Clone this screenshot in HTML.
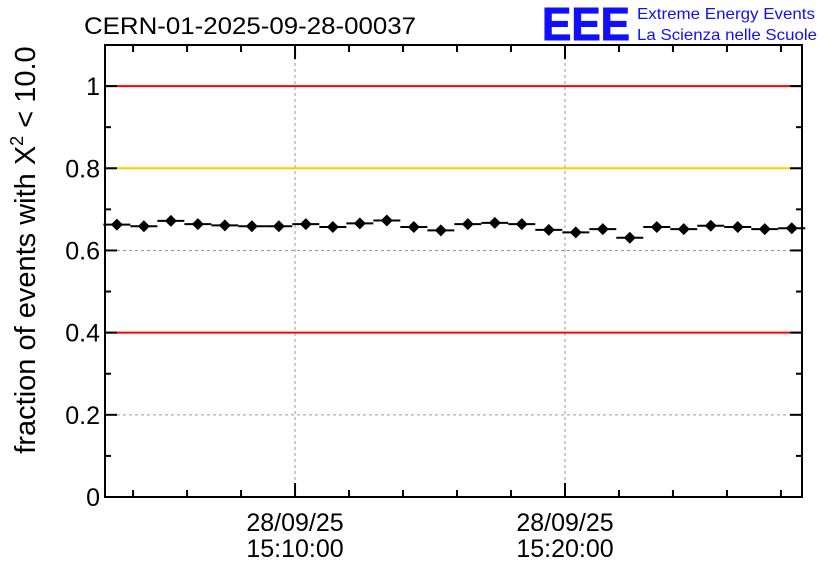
<!DOCTYPE html>
<html><head><meta charset="utf-8"><style>
body{margin:0;background:#fff;width:836px;height:572px;overflow:hidden}
svg text{font-family:"Liberation Sans",sans-serif}
</style></head><body>
<svg id="c" width="836" height="572" xmlns="http://www.w3.org/2000/svg">
<text x="84" y="34" font-size="24" textLength="332" lengthAdjust="spacingAndGlyphs">CERN-01-2025-09-28-00037</text>
<text x="542" y="40" font-size="46" font-weight="bold" fill="#1010ff" stroke="#1010ff" stroke-width="1" textLength="88" lengthAdjust="spacingAndGlyphs">EEE</text>
<text x="637" y="19" font-size="16" fill="#1010ff" textLength="178" lengthAdjust="spacingAndGlyphs">Extreme Energy Events</text>
<text x="637" y="40" font-size="16" fill="#1010ff" textLength="180" lengthAdjust="spacingAndGlyphs">La Scienza nelle Scuole</text>
<text transform="translate(35,250) rotate(-90)" text-anchor="middle" font-size="29">fraction of events with X<tspan font-size="18" dy="-12">2</tspan><tspan dy="12"> &lt; 10.0</tspan></text>
<g id="grid"></g><g id="refs"></g><g id="marks"></g><g id="axes"></g>
</svg>
<script>
const minutes=[3.4,4.4,5.4,6.4,7.4,8.4,9.4,10.4,11.4,12.4,13.4,14.4,15.4,16.4,17.4,18.4,19.4,20.4,21.4,22.4,23.4,24.4,25.4,26.4,27.4,28.4];
const fractions=[0.663,0.659,0.672,0.664,0.661,0.659,0.659,0.664,0.657,0.666,0.673,0.657,0.649,0.664,0.667,0.664,0.650,0.644,0.652,0.631,0.657,0.652,0.660,0.657,0.652,0.654];
const yTicks=[0,0.2,0.4,0.6,0.8,1];
const yTickLabels=["0","0.2","0.4","0.6","0.8","1"];
const xTicks=[10,20];
const xTickDates=["28/09/25","28/09/25"];
const xTickTimes=["15:10:00","15:20:00"];
const refLines=[1,0.8,0.4];
const refColors=["#ff0000","#ffcc00","#ff0000"];
const L=105,R=802,T=45,B=497,XMIN=2.96,XMAX=28.78,YMAX=1.1;
const xs=m=>L+(m-XMIN)/(XMAX-XMIN)*(R-L);
const ys=v=>B-v/YMAX*(B-T);
const NS="http://www.w3.org/2000/svg";
function mk(p,tag,at){const e=document.createElementNS(NS,tag);for(const k in at)e.setAttribute(k,at[k]);document.getElementById(p).appendChild(e);return e;}
yTicks.forEach(v=>{if(v>0&&v<1){const g=mk('grid','line',{x1:L,x2:R,y1:ys(v),y2:ys(v),stroke:'#999','stroke-dasharray':'3,3'});

}});
xTicks.forEach(m=>{const g=mk('grid','line',{x1:xs(m),x2:xs(m),y1:T,y2:B,stroke:'#999','stroke-dasharray':'3,3'});

});
refLines.forEach((v,i)=>{const l=mk('refs','line',{x1:L,x2:R,y1:ys(v),y2:ys(v),stroke:refColors[i],'stroke-width':2});

});
const half=(xs(1)-xs(0))/2;
minutes.forEach((m,i)=>{const x=xs(m),y=ys(fractions[i]);
const b=mk('marks','line',{x1:x-half,x2:x+half,y1:y,y2:y,stroke:'#000','stroke-width':2});


const p=mk('marks','path',{d:`M${x},${y-6}L${x+6},${y}L${x},${y+6}L${x-6},${y}Z`,fill:'#000'});

});
const fr=mk('axes','rect',{x:L,y:T,width:R-L,height:B-T,fill:'none',stroke:'#000','stroke-width':2});


for(let k=0;k<=11;k++){const v=k*0.1,y=ys(v),len=(k%2==0)?12:6;
mk('axes','line',{x1:L,x2:L+len,y1:y,y2:y,stroke:'#000','stroke-width':2});
mk('axes','line',{x1:R,x2:R-len,y1:y,y2:y,stroke:'#000','stroke-width':2});}
yTicks.forEach((v,i)=>{const t=mk('axes','text',{x:L-5,y:ys(v)+9,'text-anchor':'end','font-size':25});t.textContent=yTickLabels[i];

});
for(let m=4;m<=28;m+=2){const x=xs(m),len=(m%10==0)?14:7;
mk('axes','line',{x1:x,x2:x,y1:B,y2:B-len,stroke:'#000','stroke-width':2});
mk('axes','line',{x1:x,x2:x,y1:T,y2:T+len,stroke:'#000','stroke-width':2});}
xTicks.forEach((m,i)=>{const t=mk('axes','text',{x:xs(m),y:531,'text-anchor':'middle','font-size':25});t.textContent=xTickDates[i];


const t2=mk('axes','text',{x:xs(m),y:557,'text-anchor':'middle','font-size':25});t2.textContent=xTickTimes[i];

});
</script>
</body></html>
